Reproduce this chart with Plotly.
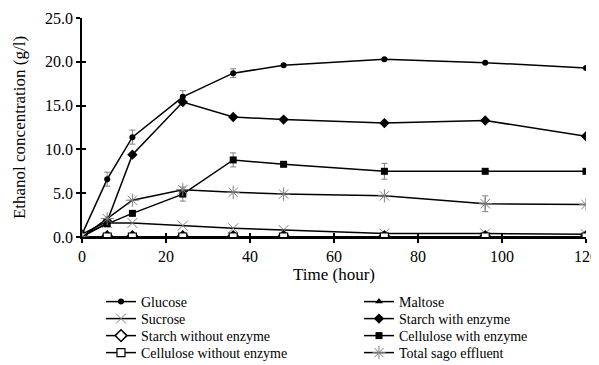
import plotly.graph_objects as go

time_h = [0, 6, 12, 24, 36, 48, 72, 96, 120]

glucose = [0.3, 6.6, 11.4, 16.0, 18.7, 19.6, 20.3, 19.9, 19.3]
glucose_err = [0.2, 0.8, 0.8, 0.7, 0.5, 0, 0, 0, 0]
maltose = [0.0, 0.0, 0.0, 0.0, 0.0, 0.0, 0.0, 0.0, 0.0]
sucrose = [0.0, 1.6, 1.6, 1.3, 1.0, 0.8, 0.4, 0.4, 0.3]
starch_enz = [0.3, 1.8, 9.4, 15.4, 13.7, 13.4, 13.0, 13.3, 11.5]
starch_noenz = [0.0, 0.0, 0.0, 0.0, 0.0, 0.0, 0.0, 0.0, 0.0]
cellulose_enz = [0.2, 1.5, 2.7, 4.9, 8.8, 8.3, 7.5, 7.5, 7.5]
cellulose_enz_err = [0, 0, 0, 0.8, 0.8, 0, 0.9, 0, 0]
cellulose_noenz = [0.0, 0.0, 0.0, 0.0, 0.0, 0.0, 0.0, 0.0, 0.0]
sago = [0.0, 2.1, 4.2, 5.4, 5.1, 4.9, 4.7, 3.8, 3.7]
sago_err = [0, 0, 0, 0, 0, 0, 0, 0.9, 0]

x_ticks = [0, 20, 40, 60, 80, 100, 120]
y_ticks = [0, 5, 10, 15, 20, 25]

FONT = "Times New Roman, Liberation Serif, serif"
GRAY = "#7f7f7f"

def err(vals):
    return dict(type="data", array=vals, visible=True, color=GRAY, thickness=1, width=3)

# (name, values, marker, error)
series = [
    ("Glucose", glucose, dict(symbol="circle", size=6, color="black"), err(glucose_err)),
    ("Maltose", maltose, dict(symbol="triangle-up", size=7, color="black"), None),
    ("Sucrose", sucrose, dict(symbol="x-thin-open", size=10, color=GRAY, line=dict(color=GRAY, width=1)), None),
    ("Starch with enzyme", starch_enz, dict(symbol="diamond", size=8, color="black"), None),
    ("Starch without enzyme", starch_noenz, dict(symbol="diamond", size=9, color="white", line=dict(color="black", width=1.5)), None),
    ("Cellulose with enzyme", cellulose_enz, dict(symbol="square", size=7, color="black"), err(cellulose_enz_err)),
    ("Cellulose without enzyme", cellulose_noenz, dict(symbol="square", size=8, color="white", line=dict(color="black", width=1.2)), None),
    ("Total sago effluent", sago, dict(symbol="asterisk-open", size=11, color=GRAY, line=dict(color=GRAY, width=1)), err(sago_err)),
]

fig = go.Figure()
for i, (name, vals, marker, e) in enumerate(series):
    lg = "legend" if i == 0 else f"legend{i + 1}"
    kw = dict(x=time_h, y=vals, name=name, mode="lines+markers", legend=lg,
              line=dict(color="black", width=1.5), marker=marker)
    if e is not None:
        kw["error_y"] = e
    fig.add_trace(go.Scatter(**kw))

# invisible helper trace for the inward half of the crossing ticks
fig.add_trace(go.Scatter(x=[0], y=[0], xaxis="x2", yaxis="y2", showlegend=False,
                         mode="markers", marker=dict(opacity=0), hoverinfo="skip"))

axis_common = dict(showgrid=False, zeroline=False, showline=True, linecolor="black",
                   linewidth=1.5, ticks="outside", ticklen=4, tickwidth=1.5, tickcolor="black",
                   tickfont=dict(family=FONT, size=16, color="black"))

# one legend per entry, laid out as 2 columns x 4 rows
col_x = [0.0377, 0.5496]
row_y = [-0.2968, -0.3744, -0.4521, -0.5297]
legends = {}
for i in range(len(series)):
    key = "legend" if i == 0 else f"legend{i + 1}"
    legends[key] = dict(orientation="v", x=col_x[i % 2], xanchor="left",
                        y=row_y[i // 2], yanchor="middle",
                        font=dict(family=FONT, size=14, color="black"),
                        itemwidth=30, bgcolor="rgba(0,0,0,0)")

fig.update_layout(
    width=591, height=357,
    margin=dict(l=74, r=13, t=10, b=128, autoexpand=False),
    plot_bgcolor="white", paper_bgcolor="white",
    font=dict(family=FONT, color="black"),
    xaxis=dict(range=[0, 120], tickvals=x_ticks, ticktext=[str(v) for v in x_ticks],
               title=dict(text="Time (hour)", font=dict(family=FONT, size=17), standoff=2),
               **axis_common),
    yaxis=dict(range=[0, 25], tickvals=y_ticks, ticktext=[f"{v:.1f}" for v in y_ticks],
               title=dict(text="Ethanol concentration (g/l)", font=dict(family=FONT, size=17), standoff=15),
               **axis_common),
    xaxis2=dict(range=[0, 120], overlaying="x", tickvals=x_ticks, ticks="inside", ticklen=4,
                tickwidth=1.5, tickcolor="black", showticklabels=False, showgrid=False,
                zeroline=False, showline=False, anchor="y2"),
    yaxis2=dict(range=[0, 25], overlaying="y", tickvals=y_ticks, ticks="inside", ticklen=4,
                tickwidth=1.5, tickcolor="black", showticklabels=False, showgrid=False,
                zeroline=False, showline=False, anchor="x2"),
    **legends,
)

fig.write_html("out.html")
